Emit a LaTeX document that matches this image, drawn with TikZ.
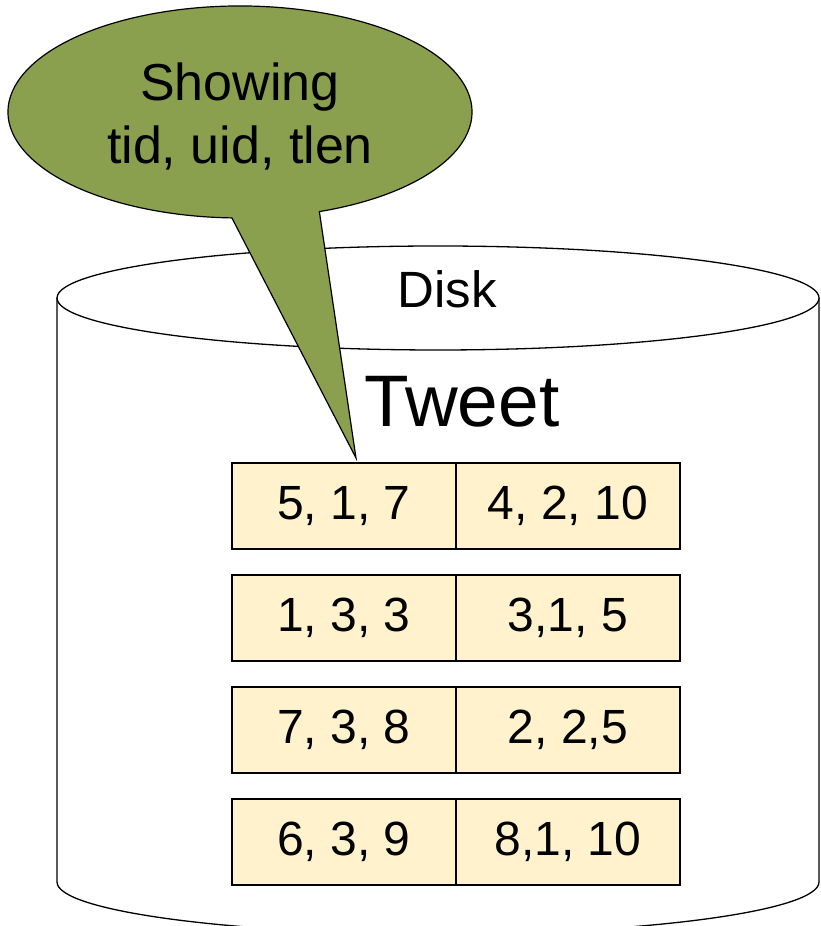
\documentclass[tikz,border=0pt]{standalone}
\usepackage{fontspec}
\setmainfont{Liberation Sans}
\usepackage{xcolor}
\usepackage{tikz}
\usetikzlibrary{arrows.meta,positioning,calc}

\definecolor{cellfill}{RGB}{255,242,204}
\definecolor{bubblegreen}{RGB}{138,160,78}

\begin{document}
\begin{tikzpicture}[
    x=1pt, y=1pt,
    disk/.style={draw, line width=1.3pt, fill=white},
    cell/.style={draw, line width=1.6pt, fill=cellfill, inner sep=0pt, outer sep=0pt,
                 minimum width=224pt, minimum height=86pt,
                 font=\fontsize{48}{56}\selectfont},
    bubble/.style={draw, line width=1.2pt, fill=bubblegreen},
    ]
\useasboundingbox (0,0) rectangle (821,926);

% the disk
\draw[disk] (57,628) -- (57,44) arc[start angle=180, end angle=360, x radius=381, y radius=52] -- (819,628);
\draw[disk] (438,628) ellipse[x radius=381, y radius=52];
\node[anchor=base, font=\fontsize{51}{60}\selectfont] (disklbl) at (447,618) {Disk};
\node[anchor=base, font=\fontsize{73}{80}\selectfont] (tbl) at (462,499) {Tweet};

% pages of the table
\node[cell] (r1a) at (344,420) {5, 1, 7};
\node[cell, right=0pt of r1a] (r1b) {4, 2, 10};
\node[cell, below=26pt of r1a] (r2a) {1, 3, 3};
\node[cell, right=0pt of r2a] (r2b) {3,1, 5};
\node[cell, below=26pt of r2a] (r3a) {7, 3, 8};
\node[cell, right=0pt of r3a] (r3b) {2, 2,5};
\node[cell, below=26pt of r3a] (r4a) {6, 3, 9};
\node[cell, right=0pt of r4a] (r4b) {8,1, 10};

% callout
\coordinate (tip) at (356,468);
\draw[bubble] (tip) -- ($(240,814)+(-70:232 and 106)$)
  arc[start angle=-70, end angle=268, x radius=232, y radius=106] -- cycle;
\node[align=center, font=\fontsize{52}{63}\selectfont] (note) at (240,810)
  {Showing\\tid, uid, tlen};
\end{tikzpicture}
\end{document}
